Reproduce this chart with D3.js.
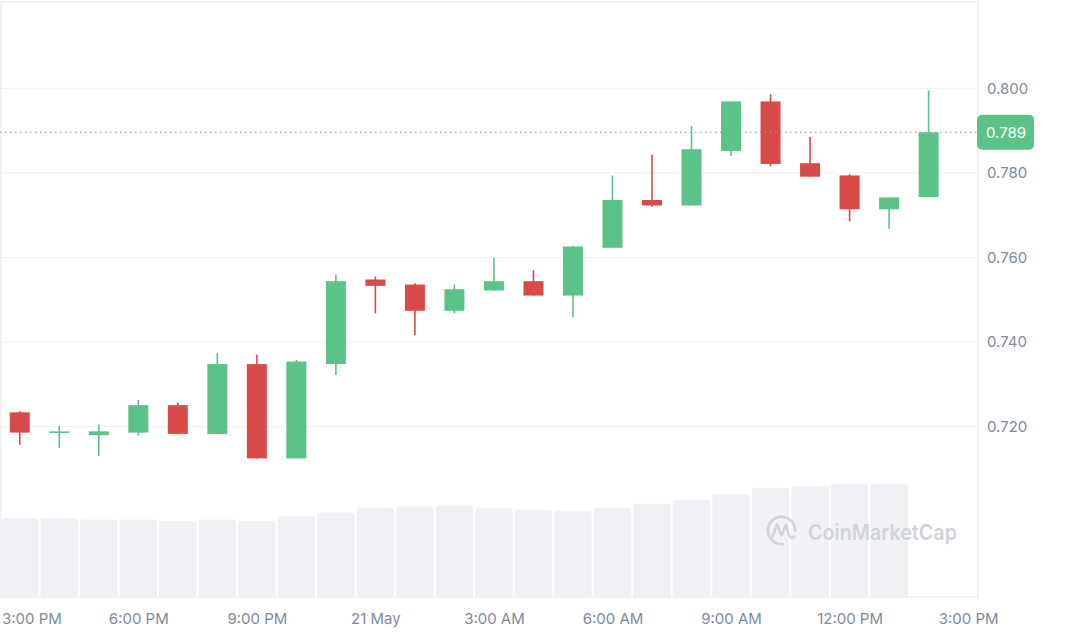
<!DOCTYPE html>
<html>
<head>
<meta charset="utf-8">
<script src="https://cdn.jsdelivr.net/npm/d3@7"></script>
<style>
  html, body { margin: 0; padding: 0; background: #ffffff; }
  svg { display: block; font-family: Inter, "Noto Sans", sans-serif; }
</style>
</head>
<body>
<svg id="chart" width="1080" height="640"></svg>
<script>
// ---- data ----
const candleTimes = [
  "2024-05-20T15:00", "2024-05-20T16:00", "2024-05-20T17:00", "2024-05-20T18:00",
  "2024-05-20T19:00", "2024-05-20T20:00", "2024-05-20T21:00", "2024-05-20T22:00",
  "2024-05-20T23:00", "2024-05-21T00:00", "2024-05-21T01:00", "2024-05-21T02:00",
  "2024-05-21T03:00", "2024-05-21T04:00", "2024-05-21T05:00", "2024-05-21T06:00",
  "2024-05-21T07:00", "2024-05-21T08:00", "2024-05-21T09:00", "2024-05-21T10:00",
  "2024-05-21T11:00", "2024-05-21T12:00", "2024-05-21T13:00", "2024-05-21T14:00"
];
const openPrices  = [0.7234, 0.7185, 0.7180, 0.7186, 0.7251, 0.7183, 0.7348, 0.7125,
                     0.7348, 0.7548, 0.7536, 0.7474, 0.7522, 0.7544, 0.7510, 0.7623,
                     0.7736, 0.7723, 0.7852, 0.7969, 0.7823, 0.7794, 0.7714, 0.7743];
const highPrices  = [0.7237, 0.7202, 0.7205, 0.7263, 0.7257, 0.7374, 0.7370, 0.7358,
                     0.7559, 0.7555, 0.7539, 0.7536, 0.7600, 0.7570, 0.7627, 0.7794,
                     0.7843, 0.7911, 0.7969, 0.7986, 0.7885, 0.7797, 0.7742, 0.7995];
const lowPrices   = [0.7157, 0.7150, 0.7131, 0.7179, 0.7182, 0.7182, 0.7125, 0.7125,
                     0.7322, 0.7468, 0.7416, 0.7468, 0.7521, 0.7510, 0.7459, 0.7623,
                     0.7720, 0.7723, 0.7840, 0.7815, 0.7791, 0.7685, 0.7668, 0.7743];
const closePrices = [0.7186, 0.7189, 0.7189, 0.7251, 0.7183, 0.7348, 0.7125, 0.7354,
                     0.7544, 0.7533, 0.7474, 0.7525, 0.7544, 0.7510, 0.7626, 0.7736,
                     0.7723, 0.7856, 0.7969, 0.7821, 0.7791, 0.7714, 0.7742, 0.7896];
// volume (arbitrary units, millions); last candle has no volume bar
const volumes = [19.7, 19.7, 19.4, 19.4, 19.0, 19.4, 19.0, 20.1, 21.1, 22.3, 22.6, 22.9,
                 22.2, 21.8, 21.5, 22.3, 23.3, 24.3, 25.7, 27.3, 27.6, 28.3, 28.3, null];
const yTickValues = [0.72, 0.74, 0.76, 0.78, 0.80];
const xTickTimes = ["2024-05-20T15:00", "2024-05-20T18:00", "2024-05-20T21:00", "2024-05-21T00:00",
                    "2024-05-21T03:00", "2024-05-21T06:00", "2024-05-21T09:00", "2024-05-21T12:00",
                    "2024-05-21T15:00"];
const xTickLabels = ["3:00 PM", "6:00 PM", "9:00 PM", "21 May", "3:00 AM", "6:00 AM",
                     "9:00 AM", "12:00 PM", "3:00 PM"];
const watermarkText = "CoinMarketCap";

// ---- layout ----
const W = 1080, H = 640;
const plot = { left: 1, top: 2, right: 978, bottom: 597 };
const GREEN = "#5bc38a", RED = "#d94a4b";

const svg = d3.select("#chart");
const parse = s => new Date(s);
const times = candleTimes.map(parse);
const hour = 3600 * 1000;

const x = d3.scaleTime()
  .domain([new Date(times[0].getTime() - 0.5 * hour), new Date(times[0].getTime() + 24.25 * hour)])
  .range([0, plot.right]);
const y = d3.scaleLinear().domain([0.72, 0.80]).range([426.7, 88.3]);
const yVol = d3.scaleLinear().domain([0, 40]).range([plot.bottom, plot.bottom - 160]);

const candles = times.map((t, i) => ({
  t, o: openPrices[i], h: highPrices[i], l: lowPrices[i], c: closePrices[i], v: volumes[i]
}));

// gridlines
svg.append("g").selectAll("line").data(yTickValues).join("line")
  .attr("x1", plot.left).attr("x2", plot.right)
  .attr("y1", d => y(d)).attr("y2", d => y(d))
  .attr("stroke", "#eff1f4").attr("stroke-width", 1);

// frame
svg.append("path")
  .attr("d", `M${plot.right},${plot.top} L${plot.left},${plot.top} L${plot.left},${plot.bottom} L${plot.right},${plot.bottom} Z`)
  .attr("fill", "none").attr("stroke", "#eceef2").attr("stroke-width", 1.5);

// volume bars
const barW = 37.5, r = 3;
svg.append("g").selectAll("path").data(candles.filter(d => d.v != null)).join("path")
  .attr("fill", "#f0f1f4")
  .attr("d", d => {
    const cx = x(d.t), x0 = cx - barW / 2, x1 = cx + barW / 2;
    const yt = yVol(d.v), yb = yVol(0);
    return `M${x0},${yb} L${x0},${yt + r} Q${x0},${yt} ${x0 + r},${yt} L${x1 - r},${yt} Q${x1},${yt} ${x1},${yt + r} L${x1},${yb} Z`;
  });

// watermark
const wm = svg.append("g");
const logoC = [781.5, 530.5];
const wmColor = "#d0d3d9";
wm.append("path")
  .attr("transform", `translate(${logoC[0]},${logoC[1]})`)
  .attr("d", d3.arc()({ innerRadius: 12.3, outerRadius: 15, startAngle: 170 * Math.PI / 180, endAngle: 455 * Math.PI / 180 }))
  .attr("fill", wmColor);
wm.append("path")
  .attr("d", `M${logoC[0] - 9},${logoC[1] + 6} L${logoC[0] - 4.5},${logoC[1] - 6} L${logoC[0]},${logoC[1] + 5} L${logoC[0] + 4.5},${logoC[1] - 6} L${logoC[0] + 7},${logoC[1] + 4} Q${logoC[0] + 9},${logoC[1] + 9} ${logoC[0] + 13},${logoC[1] + 6}`)
  .attr("fill", "none").attr("stroke", wmColor).attr("stroke-width", 2.6)
  .attr("stroke-linejoin", "round").attr("stroke-linecap", "round");
wm.append("text")
  .attr("x", 808).attr("y", 539.5)
  .attr("font-size", 22).attr("font-weight", 600)
  .attr("fill", wmColor)
  .attr("textLength", 149).attr("lengthAdjust", "spacingAndGlyphs")
  .text(watermarkText);

// candles
const cg = svg.append("g");
cg.selectAll("line").data(candles).join("line")
  .attr("x1", d => x(d.t)).attr("x2", d => x(d.t))
  .attr("y1", d => y(d.h)).attr("y2", d => y(d.l))
  .attr("stroke", d => d.c >= d.o ? GREEN : RED).attr("stroke-width", 1.6);
const bodyW = 20;
cg.selectAll("rect").data(candles).join("rect")
  .attr("x", d => x(d.t) - bodyW / 2).attr("width", bodyW)
  .attr("y", d => y(Math.max(d.o, d.c)))
  .attr("height", d => Math.max(1.6, Math.abs(y(d.o) - y(d.c))))
  .attr("fill", d => d.c >= d.o ? GREEN : RED);

// price line
const last = candles[candles.length - 1];
svg.append("line")
  .attr("x1", 0).attr("x2", plot.right)
  .attr("y1", y(last.c)).attr("y2", y(last.c))
  .attr("stroke", "#8a909b").attr("stroke-width", 1).attr("stroke-dasharray", "1.5,3.5");

// y axis
const yAxis = d3.axisRight(y).tickValues(yTickValues).tickFormat(d3.format(".3f")).tickSize(0).tickPadding(0);
const yg = svg.append("g").attr("transform", `translate(${plot.right + 9},0)`).call(yAxis);
yg.select(".domain").remove();
yg.selectAll("text").attr("font-family", "Inter, 'Noto Sans', sans-serif").attr("font-size", 15).attr("fill", "#808a9d");

// price label
const pl = svg.append("g").attr("transform", `translate(${plot.right - 1},${y(last.c)})`);
pl.append("rect").attr("x", 0).attr("y", -17.5).attr("width", 57).attr("height", 35).attr("rx", 5).attr("fill", GREEN);
pl.append("text").attr("x", 9).attr("y", 0).attr("dy", "0.35em")
  .attr("font-size", 15).attr("fill", "#ffffff").text(d3.format(".3f")(Math.floor(last.c * 1000) / 1000));

// x axis
const xTicks = xTickTimes.map(parse);
const xAxis = d3.axisBottom(x).tickValues(xTicks).tickFormat((d, i) => xTickLabels[i]).tickSize(0).tickPadding(0);
const xg = svg.append("g").attr("transform", `translate(0,${plot.bottom + 26.5})`).call(xAxis);
xg.select(".domain").remove();
xg.selectAll("text").attr("font-family", "Inter, 'Noto Sans', sans-serif").attr("font-size", 15).attr("fill", "#808a9d").attr("dy", 0);
// keep labels inside the canvas
xg.selectAll(".tick text").each(function () {
  const bb = this.getBBox();
  const tr = this.parentNode.transform.baseVal.consolidate();
  const tx = tr ? tr.matrix.e : 0;
  if (tx + bb.x < 2) d3.select(this).attr("x", 2 - (tx + bb.x));
});
</script>
</body>
</html>
